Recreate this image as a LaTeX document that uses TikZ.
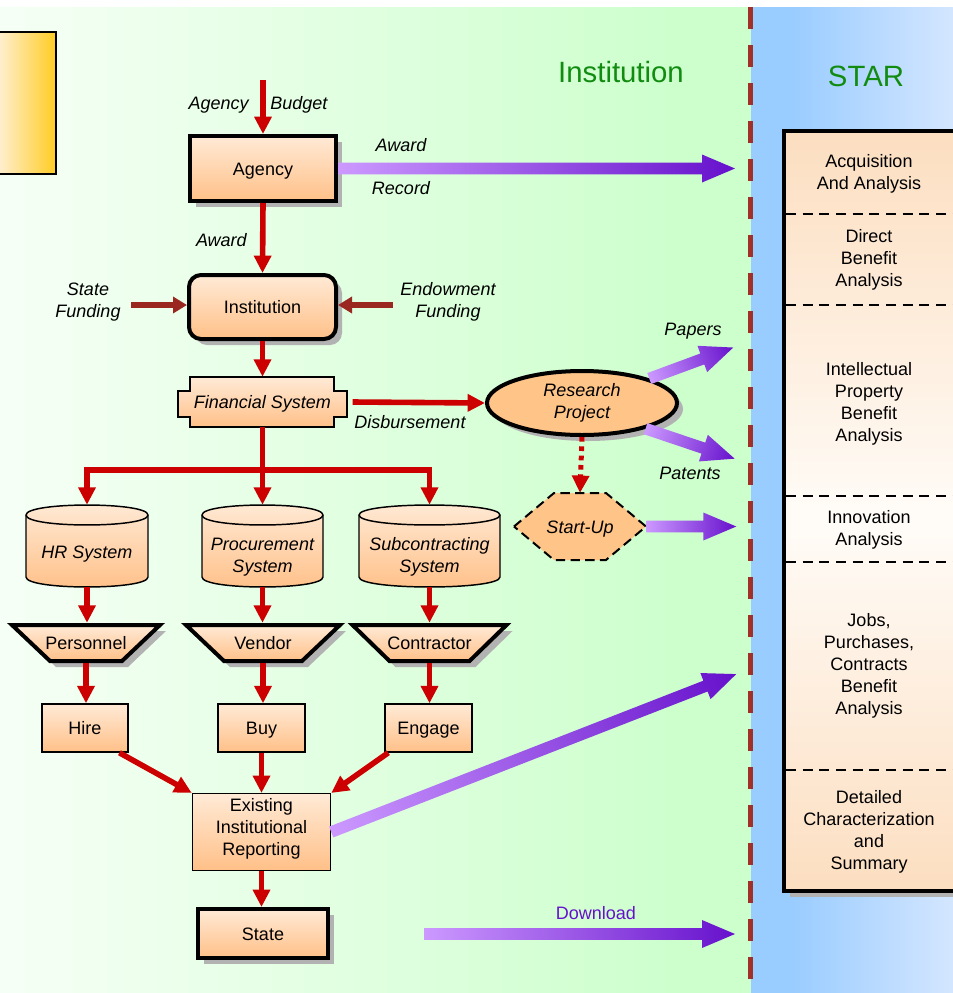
\documentclass[tikz,border=0pt]{standalone}
\usepackage{fontspec}
\setmainfont{Liberation Sans}
\usetikzlibrary{arrows.meta,shapes.geometric,shadows,calc}
\definecolor{bggreen}{RGB}{204,255,204}
\definecolor{bgleft}{RGB}{246,255,246}
\definecolor{bgblue}{RGB}{153,204,255}
\definecolor{bgblue2}{RGB}{212,230,255}
\definecolor{sepred}{RGB}{160,48,40}
\definecolor{boxtop}{RGB}{255,234,214}
\definecolor{boxbot}{RGB}{255,192,136}
\definecolor{orflat}{RGB}{255,196,136}
\definecolor{arrred}{RGB}{204,0,0}
\definecolor{fundred}{RGB}{155,40,32}
\definecolor{plight}{RGB}{204,153,255}
\definecolor{pmid}{RGB}{168,112,238}
\definecolor{pdark}{RGB}{102,17,204}
\definecolor{ttlgreen}{RGB}{17,140,17}
\definecolor{yla}{RGB}{255,238,205}
\definecolor{ylb}{RGB}{255,204,34}
\definecolor{peach}{RGB}{252,222,192}
\definecolor{peachw}{RGB}{255,252,248}
\tikzset{
  tm/.style={font=\fontsize{13.5}{16.5}\selectfont, inner sep=0pt, align=center},
  itm/.style={font=\fontsize{13.5}{16.5}\selectfont\itshape, inner sep=0pt, align=center},
  tone/.style={font=\fontsize{13.5}{16.5}\selectfont, inner sep=0pt, text height=11.8pt, text depth=2pt},
  itone/.style={font=\fontsize{13.5}{16.5}\selectfont\itshape, inner sep=0pt, text height=11.8pt, text depth=2pt},
  grad/.style={top color=boxtop, bottom color=boxbot},
  shadowed/.style={drop shadow={shadow xshift=4.5pt,shadow yshift=-4.5pt,fill=black!30,opacity=1}},
  thickbox/.style={rectangle, draw=black, line width=3pt, grad, shadowed, tone},
  thinbox/.style={rectangle, draw=black, line width=1.1pt, grad, tone},
  thinboxm/.style={rectangle, draw=black, line width=1.1pt, grad, tm},
  redarr/.style={draw=arrred, line width=4.2pt, -{Triangle[length=13pt,width=12.5pt]}},
  fundarr/.style={draw=fundred, line width=5pt, -{Triangle[length=10.5pt,width=12pt]}},
  sepdash/.style={draw=black, line width=1.5pt, dash pattern=on 7.5pt off 5pt},
  ttl/.style={font=\fontsize{22}{26}\selectfont, text=ttlgreen, inner sep=0pt},
}
\newcommand{\garrow}[3]{%
  \begin{scope}[transform canvas={shift={(#1)},rotate=#2}]
    \shade[left color=plight, middle color=pmid, right color=pdark]
      (0,-5.8) -- ({#3-33},-5.8) -- ({#3-33},-14) -- (#3,0) -- ({#3-33},14) -- ({#3-33},5.8) -- (0,5.8) -- cycle;
  \end{scope}}
\newcommand{\cylshape}[2]{%
  \draw[line width=1.1pt, grad] (#1,515) -- (#1,577) .. controls (#1,590.3) and (#2,590.3) .. (#2,577)
     -- (#2,515) .. controls (#2,501.7) and (#1,501.7) .. cycle;
  \draw[line width=1.1pt] (#1,515) .. controls (#1,528.3) and (#2,528.3) .. (#2,515);}
\newcommand{\trapshape}[4]{%
  \draw[line width=3pt, grad, shadowed] (#1,625) -- (#2,625) -- (#4,661) -- (#3,661) -- cycle;}
\begin{document}
\begin{tikzpicture}[x=0.75pt,y=-0.75pt]
\useasboundingbox (0,0) rectangle (953,993);
% backgrounds
\fill[white] (0,0) rectangle (953,993);
\shade[left color=bgleft, right color=bggreen] (0,7) rectangle (690,993);
\fill[bggreen] (689,7) rectangle (752,993);
\fill[bgblue] (751,7) rectangle (791,993);
\shade[left color=bgblue, right color=bgblue2] (790,7) rectangle (953,993);
\draw[sepred, line width=3.75pt, dash pattern=on 16.5pt off 12pt] (750,7) -- (750,993);
% yellow box
\draw[line width=1.5pt, left color=yla, right color=ylb] (0,32) -- (56,32) -- (56,174) -- (0,174);
% titles
\node[ttl] (tinst) at (621,72) {Institution};
\node[ttl] (tstar) at (866,76) {STAR};
% STAR box
\fill[black!30] (790,891) rectangle (953,897);
\shade[top color=peach, bottom color=peachw] (784,131) rectangle (953,520);
\shade[top color=peachw, bottom color=peach] (784,520) rectangle (953,891);
\draw[line width=3pt] (953,131) -- (784,131) -- (784,891) -- (953,891);
\draw[sepdash] (786,214) -- (953,214);
\draw[sepdash] (786,305) -- (953,305);
\draw[sepdash] (786,496) -- (953,496);
\draw[sepdash] (786,562) -- (953,562);
\draw[sepdash] (786,770) -- (953,770);
\node[tm] (acq) at (869,173.5) {Acquisition\\And Analysis};
\node[tm] (dir) at (869,259.5) {Direct\\Benefit\\Analysis};
\node[tm] (ip) at (869,403.5) {Intellectual\\Property\\Benefit\\Analysis};
\node[tm] (inn) at (869,530) {Innovation\\Analysis};
\node[tm] (jobs) at (869,666) {Jobs,\\Purchases,\\Contracts\\Benefit\\Analysis};
\node[tm] (det) at (869,832) {Detailed\\Characterization\\and\\Summary};
% main column
\node[thickbox, minimum width=109.5pt, minimum height=48.75pt] (agency) at (263,168.5) {Agency};
\node[thickbox, rounded corners=9pt, minimum width=110.25pt, minimum height=48pt] (inst) at (262.5,307) {Institution};
\draw[line width=1.3pt, grad] (190,377) -- (334,377) -- (334,391) -- (347,391) -- (347,417) -- (334,417)
   -- (334,427) -- (190,427) -- (190,417) -- (178,417) -- (178,391) -- (190,391) -- cycle;
\node[itone, minimum width=126.75pt, minimum height=37.5pt] (fin) at (262.5,402) {Financial System};
\node[ellipse, draw=black, line width=3pt, fill=orflat, shadowed, minimum width=142.5pt, minimum height=48pt, itm] (res) at (582,403) {Research\\Project};
\draw[line width=1.5pt, dash pattern=on 7pt off 4pt, fill=orflat] (514,526.5) -- (554,493) -- (606,493) -- (646,526.5) -- (606,560) -- (554,560) -- cycle;
\node[itone, minimum width=99pt, minimum height=50pt] (su) at (580,526.5) {Start-Up};
% cylinders
\cylshape{26}{148}
\cylshape{202}{323}
\cylshape{359}{500}
\node[minimum width=91.5pt, minimum height=61.5pt, inner sep=0pt] (hr) at (87,546) {};
\node[minimum width=90.75pt, minimum height=61.5pt, inner sep=0pt] (proc) at (262.5,546) {};
\node[minimum width=105.75pt, minimum height=61.5pt, inner sep=0pt] (sub) at (429.5,546) {};
\node[itone] (hrt) at (87,552) {HR System};
\node[itm] (proct) at (262.5,557) {Procurement\\System};
\node[itm] (subt) at (429.5,557) {Subcontracting\\System};
% trapezoids
\trapshape{12}{160}{50}{122}
\trapshape{186}{340}{224}{302}
\trapshape{352.5}{506.5}{389.5}{469.5}
\node[tone, minimum width=111pt, minimum height=30pt] (per) at (86,643) {Personnel};
\node[tone, minimum width=115.5pt, minimum height=30pt] (ven) at (263,643) {Vendor};
\node[tone, minimum width=115.5pt, minimum height=30pt] (con) at (429.5,643) {Contractor};
% action boxes
\node[thinbox, minimum width=64.5pt, minimum height=36pt] (hire) at (85,728) {Hire};
\node[thinbox, minimum width=65.25pt, minimum height=36pt] (buy) at (261.5,728) {Buy};
\node[thinbox, minimum width=65.25pt, minimum height=36pt] (engage) at (428.5,728) {Engage};
\node[thinboxm, minimum width=103.5pt, minimum height=57.5pt] (rep) at (261.5,832) {\\[-11.5pt]Existing\\Institutional\\Reporting};
\node[thickbox, minimum width=97.5pt, minimum height=36.75pt] (state) at (263,933.5) {State};
% labels
\node[itone, anchor=east] (lagency) at (249,103) {Agency};
\node[itone, anchor=west] (lbudget) at (270,103) {Budget};
\node[itone, anchor=east] (laward) at (247,240) {Award};
\node[itone] (laward2) at (401,145) {Award};
\node[itone] (lrecord) at (401,188) {Record};
\node[itm] (lstate) at (88,302) {State\\Funding};
\node[itm] (lendow) at (448,302) {Endowment\\Funding};
\node[itone] (ldisb) at (410,422) {Disbursement};
\node[itone] (lpapers) at (693,329) {Papers};
\node[itone] (lpatents) at (690,473) {Patents};
\node[tone, text=pdark] (ldown) at (596,913) {Download};
% red connectors
\coordinate (ab) at (263,80);
\coordinate (sf) at (131,305);
\coordinate (ef) at (393,305);
\coordinate (jn) at (262.5,470);
\draw[redarr] (ab) -- (agency.north);
\draw[redarr] (agency.south) -- (inst.north);
\draw[fundarr] (sf) -- (sf -| inst.west);
\draw[fundarr] (ef) -- (ef -| inst.east);
\draw[redarr] (inst.south) -- (fin.north);
\draw[redarr] ([xshift=4pt]fin.east) -- (res.west);
\draw[redarr] (fin.south) -- (proc.north);
\draw[redarr] (jn) -| (hr.north);
\draw[redarr] (jn) -| (sub.north);
\draw[redarr] (hr.south) -- (hr.south |- per.north);
\draw[redarr] (proc.south) -- (proc.south |- ven.north);
\draw[redarr] (sub.south) -- (sub.south |- con.north);
\draw[redarr] (per.south) -- (per.south |- hire.north);
\draw[redarr] (ven.south) -- (ven.south |- buy.north);
\draw[redarr] (con.south) -- (con.south |- engage.north);
\draw[redarr] ([xshift=-7pt]hire.south east) -- (rep.north west);
\draw[redarr] (buy.south) -- (buy.south |- rep.north);
\draw[redarr] ([xshift=3pt]engage.south west) -- (rep.north east);
\draw[redarr] (rep.south) -- (rep.south |- state.north);
\draw[redarr, line width=3.75pt, dash pattern=on 3.5pt off 3.5pt] (res.south) -- (su.north);
% purple gradient arrows
\coordinate (dlt) at (424,934);
\garrow{agency.east}{0}{397}
\garrow{res.20}{20.25}{89.5}
\garrow{res.-22}{-18.6}{94}
\garrow{su.east}{0}{90}
\garrow{rep.east}{21.3}{434.7}
\garrow{dlt}{0}{311}
\end{tikzpicture}
\end{document}
